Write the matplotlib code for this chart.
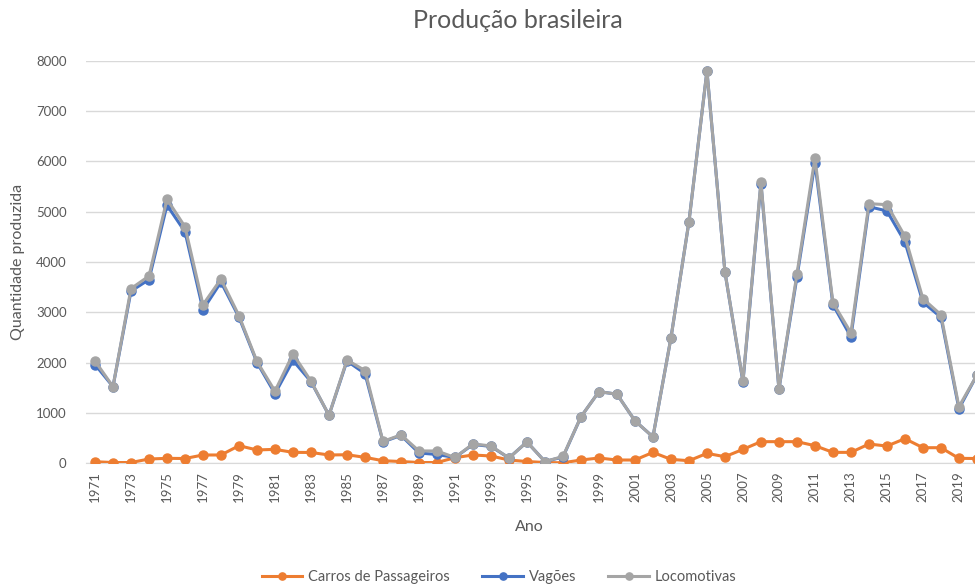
import numpy as np
import matplotlib.pyplot as plt

plt.rcParams['font.family'] = ['Lato', 'DejaVu Sans']

anos = list(range(1971, 2021))

# Carros de passageiros
carros = [26, 10, 10, 80, 93, 90, 160, 160, 345, 260,
          272, 212, 210, 160, 165, 113, 46, 30, 10, 10,
          106, 160, 140, 60, 30, 10, 5, 60, 100, 60,
          60, 212, 73, 46, 192, 126, 272, 425, 425, 425,
          345, 212, 212, 378, 338, 484, 305, 305, 93, 90]

# Vagoes
vagoes = [1960, 1520, 3420, 3650, 5130, 4600, 3050, 3600, 2900, 2000,
          1380, 2040, 1620, 950, 2030, 1780, 420, 550, 200, 170,
          110, 370, 330, 100, 420, 30, 120, 920, 1420, 1370,
          840, 520, 2490, 4800, 7800, 3800, 1610, 5560, 1470, 3700,
          5970, 3150, 2510, 5100, 5015, 4400, 3200, 2900, 1080, 1750]

# Locomotivas
locomotivas = [2030, 1520, 3470, 3720, 5250, 4700, 3150, 3660, 2930, 2020,
               1430, 2170, 1630, 950, 2050, 1840, 430, 560, 240, 240,
               110, 380, 340, 100, 420, 30, 130, 920, 1420, 1370,
               840, 520, 2490, 4800, 7800, 3800, 1630, 5600, 1470, 3760,
               6070, 3190, 2590, 5160, 5140, 4510, 3270, 2950, 1120, 1750]

cor_carros = '#ED7D31'
cor_vagoes = '#4472C4'
cor_loco = '#A5A5A5'
cinza_txt = '#595959'

fig = plt.figure(figsize=(9.75, 5.87), dpi=100)
# the plot area runs past the right edge on purpose (last year is cut)
ax = fig.add_axes([0.0882, 0.2112, 0.923, 0.685])

x = np.arange(len(anos))
ax.plot(x, carros, color=cor_carros, lw=2.2, marker='o', ms=6.5,
        label='Carros de Passageiros', zorder=3)
ax.plot(x, vagoes, color=cor_vagoes, lw=2.2, marker='o', ms=6.5,
        label='Vagões', zorder=4)
ax.plot(x, locomotivas, color=cor_loco, lw=2.2, marker='o', ms=6.5,
        label='Locomotivas', zorder=5)

ax.set_xlim(-0.5, len(anos) - 0.5)
ax.set_ylim(0, 8000)
ax.set_yticks(range(0, 8001, 1000))
ax.set_xticks(x[::2])
ax.set_xticklabels([str(a) for a in anos[::2]], rotation=90)
ax.tick_params(axis='both', length=0, labelsize=9.5, colors=cinza_txt)
ax.tick_params(axis='y', pad=14)
ax.tick_params(axis='x', pad=6)

ax.grid(axis='y', color='#D9D9D9', lw=1)
ax.set_axisbelow(True)
for s in ['top', 'right', 'left']:
    ax.spines[s].set_visible(False)
ax.spines['bottom'].set_color('#D9D9D9')

fig.text(0.531, 0.965, 'Produção brasileira', ha='center', va='center',
         fontsize=18, color=cinza_txt)
fig.text(0.018, 0.553, 'Quantidade produzida', rotation=90, ha='center',
         va='center', fontsize=11.5, color=cinza_txt)
fig.text(0.543, 0.102, 'Ano', ha='center', va='center', fontsize=11.5,
         color=cinza_txt)

leg = fig.legend(loc='center', bbox_to_anchor=(0.512, 0.017), ncol=3,
                 frameon=False, fontsize=10.5, handlelength=2.8,
                 markerscale=0.8, columnspacing=2.2, handletextpad=0.4)
for t in leg.get_texts():
    t.set_color(cinza_txt)

fig.savefig('out.png', dpi=100)
